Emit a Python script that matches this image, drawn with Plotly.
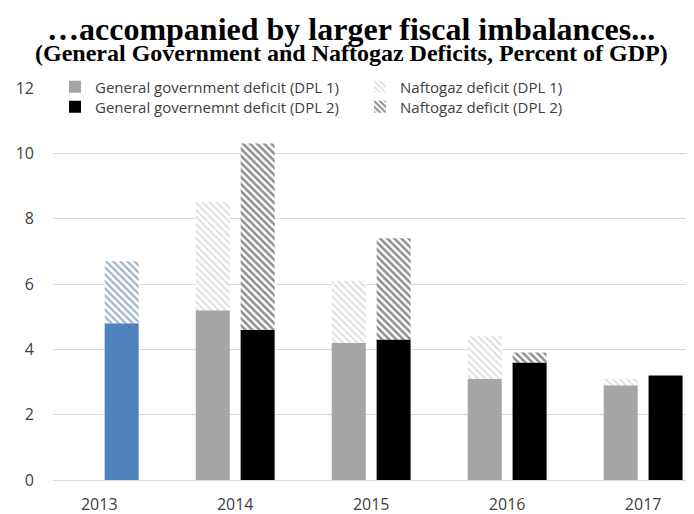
import plotly.graph_objects as go

years = ["2013", "2014", "2015", "2016", "2017"]
later_years = ["2014", "2015", "2016", "2017"]

gg_2013 = [4.8]
naf_2013 = [1.9]
gg_dpl1 = [5.2, 4.2, 3.1, 2.9]
naf_dpl1 = [3.3, 1.9, 1.3, 0.2]
gg_dpl2 = [4.6, 4.3, 3.6, 3.2]
naf_dpl2 = [5.7, 3.1, 0.3, 0.0]

y_ticks = [0, 2, 4, 6, 8, 10, 12]

title_text = "…accompanied by larger fiscal imbalances..."
subtitle_text = "(General Government and Naftogaz Deficits, Percent of GDP)"

# page body adds an 8px offset; figure is sized to fit the window
PAGE_OFF = 8
W, H = 694 - PAGE_OFF, 514 - PAGE_OFF
PLOT_L, PLOT_R, PLOT_T, PLOT_B = 53, 688, 88, 480   # in window pixels
PH = PLOT_B - PLOT_T
PW = PLOT_R - PLOT_L

BW = 0.25
OFF1 = -0.29
OFF2 = 0.04
FONT = "Open Sans"
TXT = "#404040"


def paper_y(py):
    return (PLOT_B - py) / PH


def paper_x(px):
    return (px - PLOT_L) / PW


def cont_x(px):
    return (px - PAGE_OFF) / W


def cont_y(py):
    return 1 - (py - PAGE_OFF) / H


fig = go.Figure()

# 2013 (single bar)
fig.add_trace(go.Bar(x=["2013"], y=gg_2013, width=BW, offset=OFF2,
                     marker=dict(color="#4f81bd", line=dict(width=0)),
                     showlegend=False, hoverinfo="skip"))
fig.add_trace(go.Bar(x=["2013"], y=naf_2013, base=gg_2013, width=BW, offset=OFF2,
                     marker=dict(color="#3f6590", line=dict(width=0),
                                 pattern=dict(shape="\\", fgcolor="#3f6590", bgcolor="white",
                                              size=5, solidity=0.45)),
                     showlegend=False, hoverinfo="skip"))

# DPL 1
fig.add_trace(go.Bar(x=later_years, y=gg_dpl1, width=BW, offset=OFF1,
                     name="General government deficit (DPL 1)", legend="legend",
                     marker=dict(color="#a5a5a5", line=dict(width=0))))
fig.add_trace(go.Bar(x=later_years, y=naf_dpl1, base=gg_dpl1, width=BW, offset=OFF1,
                     name="Naftogaz deficit (DPL 1)", legend="legend",
                     marker=dict(color="#c4c4c4", line=dict(width=0),
                                 pattern=dict(shape="\\", fgcolor="#c4c4c4", bgcolor="white",
                                              size=5, solidity=0.45))))
# DPL 2
fig.add_trace(go.Bar(x=later_years, y=gg_dpl2, width=BW, offset=OFF2,
                     name="General governemnt deficit (DPL 2)", legend="legend2",
                     marker=dict(color="#000000", line=dict(width=0))))
fig.add_trace(go.Bar(x=later_years, y=naf_dpl2, base=gg_dpl2, width=BW, offset=OFF2,
                     name="Naftogaz deficit (DPL 2)", legend="legend2",
                     marker=dict(color="#1e1e1e", line=dict(width=0),
                                 pattern=dict(shape="\\", fgcolor="#1e1e1e", bgcolor="white",
                                              size=5, solidity=0.5))))

legend_common = dict(orientation="h", xref="container", yref="container",
                     xanchor="left", yanchor="middle",
                     font=dict(family=FONT, size=15, color=TXT),
                     bgcolor="rgba(255,255,255,0)", entrywidth=260,
                     entrywidthmode="pixels", traceorder="normal",
                     itemclick=False)

fig.update_layout(
    width=W, height=H,
    barmode="overlay",
    paper_bgcolor="white", plot_bgcolor="white",
    margin=dict(l=PLOT_L - PAGE_OFF, r=694 - PLOT_R, t=PLOT_T - PAGE_OFF,
                b=514 - PLOT_B, autoexpand=False),
    font=dict(family=FONT, size=15, color=TXT),
    legend=dict(legend_common, x=cont_x(55), y=cont_y(87)),
    legend2=dict(legend_common, x=cont_x(55), y=cont_y(107)),
    xaxis=dict(type="category", categoryorder="array", categoryarray=years,
               range=[-0.34, 4.33], showgrid=False, showline=True,
               linecolor="#d9d9d9", linewidth=1, ticks="", ticklabelstandoff=10,
               tickfont=dict(family=FONT, size=16, color=TXT)),
    yaxis=dict(range=[0, 12], tickvals=y_ticks, showgrid=True,
               gridcolor="#d9d9d9", gridwidth=1, zeroline=False,
               showline=False, ticks="", ticklabelstandoff=18,
               tickfont=dict(family=FONT, size=16, color=TXT)),
    annotations=[
        dict(text="<b>" + title_text + "</b>",
             xref="paper", yref="paper", x=paper_x(351), y=paper_y(29),
             xanchor="center", yanchor="middle", showarrow=False,
             font=dict(family="Liberation Serif", size=32, color="black")),
        dict(text="<b>" + subtitle_text + "</b>",
             xref="paper", yref="paper", x=paper_x(351), y=paper_y(53),
             xanchor="center", yanchor="middle", showarrow=False,
             font=dict(family="Liberation Serif", size=24, color="black")),
    ],
)

fig.write_html("out.html")
